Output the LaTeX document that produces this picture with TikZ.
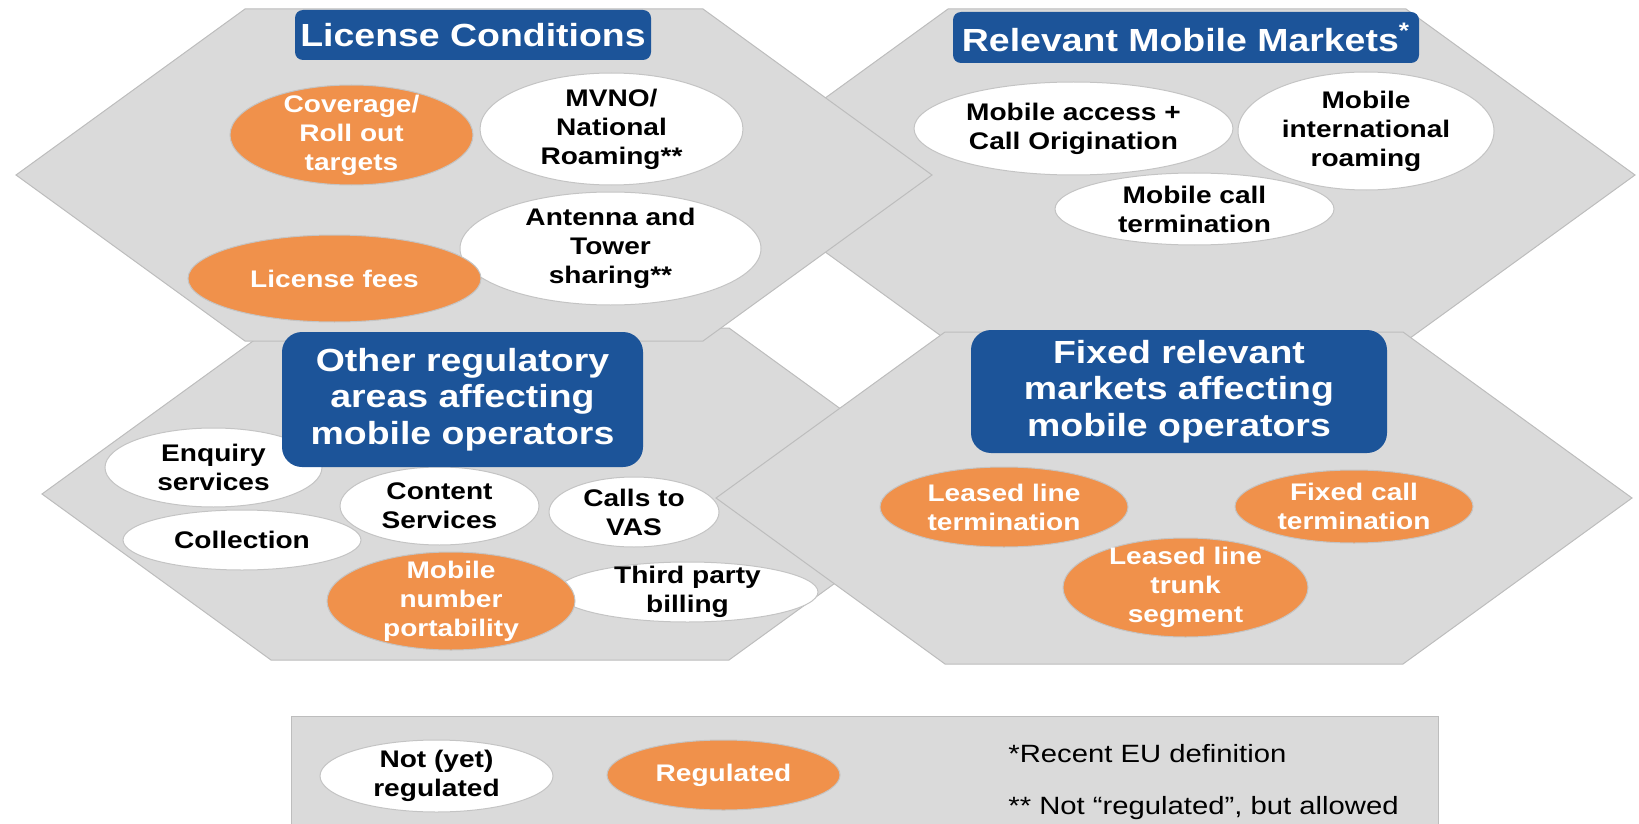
\documentclass[tikz,border=0pt]{standalone}
\usepackage{fontspec}
\setmainfont{Liberation Sans}[FakeStretch=1.17]
\usetikzlibrary{shapes.geometric}

\definecolor{hexgrey}{HTML}{DADADA}
\definecolor{hexline}{HTML}{BDBDBD}
\definecolor{ovalline}{HTML}{C4C4C4}
\definecolor{headblue}{HTML}{1C5499}
\definecolor{regorange}{HTML}{F0914B}

\newcommand\ovalfont{\fontsize{12}{14.5}\selectfont\bfseries}
\newcommand\hdfont{\fontsize{16}{18.3}\selectfont\bfseries}
\newcommand\notefont{\fontsize{12.5}{15}\selectfont}

\tikzset{
  hexa/.style={fill=hexgrey, draw=hexline, line width=0.5pt},
  open/.style={ellipse, fill=white, draw=ovalline, line width=0.5pt,
    inner sep=-4pt, font=\ovalfont, align=center},
  reg/.style={open, fill=regorange, text=white},
  head/.style={rectangle, rounded corners=4pt, fill=headblue, text=white,
    inner sep=0pt, font=\hdfont, align=center},
  note/.style={anchor=base west, inner sep=0pt, font=\notefont}
}

\begin{document}
\begin{tikzpicture}[x=0.5pt, y=-0.5pt]
\useasboundingbox (0,0) rectangle (1639,824);

% the four fields
\filldraw[hexa] (719,175) -- (948,9) -- (1406,9) -- (1635,175) -- (1406,341) -- (948,341) -- cycle;
\filldraw[hexa] (42,494) -- (271,328) -- (729,328) -- (958,494) -- (729,660) -- (271,660) -- cycle;
\filldraw[hexa] (716,498) -- (945,332) -- (1403,332) -- (1632,498) -- (1403,664) -- (945,664) -- cycle;
\filldraw[hexa] (16,175) -- (245,9) -- (703,9) -- (932,175) -- (703,341) -- (245,341) -- cycle;

% license conditions
\node[open, minimum width=131.5pt, minimum height=56pt] (mvno) at (611.5,129) {MVNO/\\National\\Roaming**};
\node[open, minimum width=150.5pt, minimum height=56.5pt] (antenna) at (610.5,248.5) {Antenna and\\Tower\\sharing**};
\node[reg, minimum width=121.5pt, minimum height=50pt] (cover) at (351.5,135) {Coverage/\\Roll out\\targets};
\node[reg, minimum width=146.5pt, minimum height=43.5pt] (fees) at (334.5,278.5) {License fees};

% relevant mobile markets
\node[open, minimum width=159.5pt, minimum height=46.5pt] (access) at (1073.5,128.5) {Mobile access +\\Call Origination};
\node[open, minimum width=128pt, minimum height=59pt] (intl) at (1366,131) {Mobile\\international\\roaming};
\node[open, minimum width=139.5pt, minimum height=36pt] (mterm) at (1194.5,209) {Mobile call\\termination};

% other regulatory areas
\node[open, minimum width=108.5pt, minimum height=39.5pt] (enquiry) at (213.5,467.5) {Enquiry\\services};
\node[open, minimum width=119pt, minimum height=30pt] (collect) at (242,540) {Collection};
\node[open, minimum width=99.5pt, minimum height=39pt] (content) at (439.5,506) {Content\\Services};
\node[open, minimum width=85pt, minimum height=35pt] (vas) at (634,512) {Calls to\\VAS};
\node[open, minimum width=130.5pt, minimum height=30pt] (billing) at (687.5,592) {Third party\\billing};
\node[reg, minimum width=124pt, minimum height=49pt] (mnp) at (451,601) {Mobile\\number\\portability};

% fixed relevant markets
\node[reg, minimum width=124pt, minimum height=40pt] (llterm) at (1004,507) {Leased line\\termination};
\node[reg, minimum width=119pt, minimum height=36.5pt] (fterm) at (1354,506.5) {Fixed call\\termination};
\node[reg, minimum width=122.5pt, minimum height=49.5pt] (trunk) at (1185.5,587.5) {Leased line\\trunk\\segment};

% headings
\node[head, minimum width=178pt, minimum height=25pt] (lichead) at (473,35) {License Conditions};
\node[head, minimum width=233pt, minimum height=25.5pt] (mkthead) at (1186,37.5) {Relevant Mobile Markets\textsuperscript{*}};
\node[head, rounded corners=10pt, minimum width=180.5pt, minimum height=67.5pt] (othhead) at (462.5,399.5) {Other regulatory\\areas affecting\\mobile operators};
\node[head, rounded corners=10pt, minimum width=208pt, minimum height=61.5pt] (fixhead) at (1179,391.5) {Fixed relevant\\markets affecting\\mobile operators};

% legend
\filldraw[hexa] (291,716) rectangle (1438,824);
\node[open, minimum width=116.5pt, minimum height=36pt] (notyet) at (436.5,776) {Not (yet)\\regulated};
\node[reg, minimum width=116.5pt, minimum height=35pt] (regd) at (723.5,775) {Regulated};
\node[note] (note1) at (1008,762) {*Recent EU definition};
\node[note] (note2) at (1008,814) {** Not “regulated”, but allowed};
\end{tikzpicture}
\end{document}
